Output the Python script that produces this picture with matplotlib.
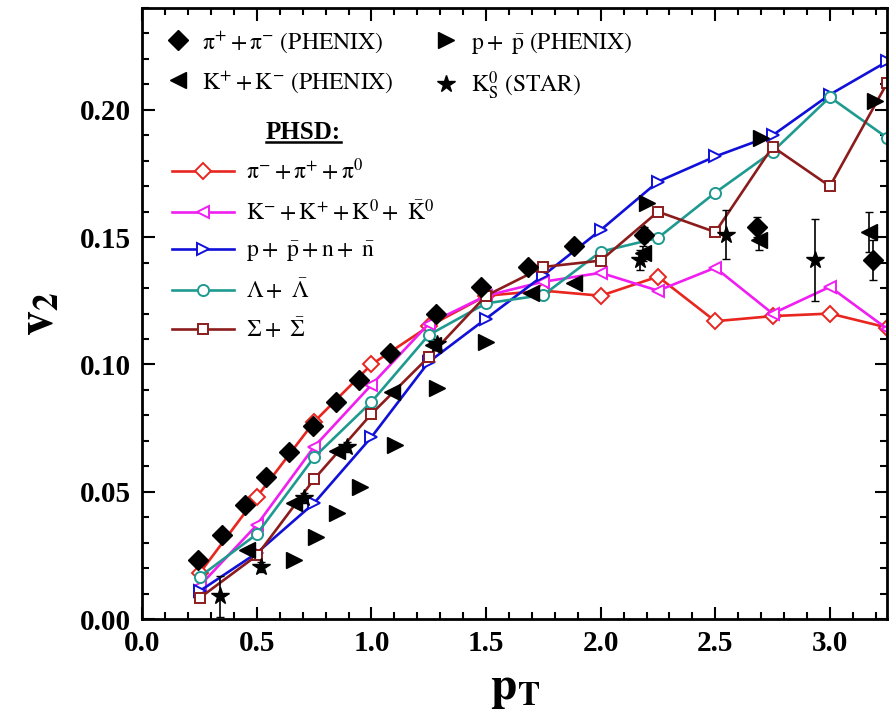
import matplotlib
matplotlib.use("Agg")
import matplotlib.pyplot as plt
from matplotlib.lines import Line2D
from matplotlib.ticker import MultipleLocator, FormatStrFormatter

plt.rcParams['font.family'] = ['Liberation Serif', 'DejaVu Serif']
plt.rcParams['mathtext.fontset'] = 'stix'

# ---------------- data ----------------
pt_model = [0.25, 0.5, 0.75, 1.0, 1.25, 1.5, 1.75, 2.0, 2.25, 2.5, 2.75, 3.0, 3.25]
v2_pi = [0.018, 0.048, 0.0775, 0.100, 0.115, 0.127, 0.129, 0.127, 0.1345, 0.117, 0.119, 0.120, 0.1145]
v2_K = [0.013, 0.037, 0.0677, 0.092, 0.116, 0.127, 0.1325, 0.136, 0.129, 0.138, 0.120, 0.1305, 0.114]
v2_p = [0.011, 0.026, 0.0456, 0.0715, 0.101, 0.118, 0.135, 0.1528, 0.1718, 0.1817, 0.190, 0.206, 0.219]
v2_L = [0.0166, 0.0334, 0.0636, 0.0853, 0.1116, 0.124, 0.1273, 0.1443, 0.1497, 0.1675, 0.1836, 0.205, 0.189]
v2_S = [0.0083, 0.025, 0.055, 0.0806, 0.103, 0.127, 0.1383, 0.1408, 0.160, 0.152, 0.1855, 0.170, 0.2106]

pt_phx_pi = [0.245, 0.35, 0.447, 0.541, 0.642, 0.743, 0.844, 0.945, 1.08, 1.28, 1.48, 1.685, 1.885, 2.19, 2.68, 3.19]
v2_phx_pi = [0.0232, 0.033, 0.0448, 0.056, 0.0657, 0.0758, 0.0854, 0.094, 0.1045, 0.120, 0.1306, 0.1382, 0.1465, 0.151, 0.154, 0.141]
err_phx_pi = [0, 0, 0, 0, 0, 0, 0, 0, 0, 0, 0, 0, 0, 0.003, 0.004, 0.008]

pt_phx_K = [0.455, 0.664, 0.851, 1.09, 1.27, 1.696, 1.885, 2.186, 2.69, 3.17]
v2_phx_K = [0.0271, 0.0455, 0.066, 0.0893, 0.1077, 0.128, 0.132, 0.1437, 0.149, 0.152]
err_phx_K = [0, 0, 0, 0, 0, 0, 0, 0.003, 0.004, 0.008]

pt_phx_p = [0.664, 0.758, 0.851, 0.952, 1.104, 1.284, 1.50, 2.20, 2.70, 3.196]
v2_phx_p = [0.0232, 0.0323, 0.0415, 0.052, 0.0684, 0.0906, 0.109, 0.1633, 0.189, 0.2033]

pt_star = [0.339, 0.52, 0.706, 0.895, 1.284, 2.17, 2.547, 2.936]
v2_star = [0.009, 0.0206, 0.0475, 0.0676, 0.108, 0.141, 0.151, 0.141]
err_star = [0.008, 0.002, 0.002, 0.002, 0.002, 0.004, 0.0095, 0.016]

# ---------------- figure ----------------
fig = plt.figure(figsize=(8.89, 7.25), dpi=100)
ax = fig.add_axes([0.160, 0.146, 0.838, 0.843])

lw = 1.9
ms = 9
ax.plot(pt_model, v2_pi, '-D', color='#e8251f', mfc='white', mec='#e8251f', lw=lw, ms=8, mew=1.4,
        label=r'$\mathrm{\pi^{-}+\pi^{+}+\pi^{0}}$')
ax.plot(pt_model, v2_K, '-<', color='#f01ef0', mfc='white', mec='#f01ef0', lw=lw, ms=ms, mew=1.4,
        label=r'$\mathrm{K^{-}+K^{+}+K^{0}+\ \bar{K}^{0}}$')
ax.plot(pt_model, v2_p, '->', color='#1010d8', mfc='white', mec='#1010d8', lw=lw, ms=ms, mew=1.4,
        label=r'$\mathrm{p+\ \bar{p}+n+\ \bar{n}}$')
ax.plot(pt_model, v2_L, '-o', color='#1f9a90', mfc='white', mec='#1f9a90', lw=lw, ms=8, mew=1.4,
        label=r'$\mathrm{\Lambda+\ \bar{\Lambda}}$')
ax.plot(pt_model, v2_S, '-s', color='#8c1c1c', mfc='white', mec='#8c1c1c', lw=lw, ms=7.5, mew=1.4,
        label=r'$\mathrm{\Sigma+\ \bar{\Sigma}}$')
model_handles, model_labels = ax.get_legend_handles_labels()

h_pi = ax.errorbar(pt_phx_pi, v2_phx_pi, yerr=err_phx_pi, fmt='D', color='black', ms=10, capsize=3,
                   elinewidth=1.2, label=r'$\mathrm{\pi^{+}+\pi^{-}\ (PHENIX)}$')
h_K = ax.errorbar(pt_phx_K, v2_phx_K, yerr=err_phx_K, fmt='<', color='black', ms=12, capsize=3,
                  elinewidth=1.2, label=r'$\mathrm{K^{+}+K^{-}\ (PHENIX)}$')
h_p = ax.errorbar(pt_phx_p, v2_phx_p, fmt='>', color='black', ms=12,
                  label=r'$\mathrm{p+\ \bar{p}\ (PHENIX)}$')
h_s = ax.errorbar(pt_star, v2_star, yerr=err_star, fmt='*', color='black', ms=13, capsize=3,
                  elinewidth=1.2, label=r'$\mathrm{K^{0}_{S}\ (STAR)}$')

ax.set_xlim(0, 3.25)
ax.set_ylim(0, 0.24)
ax.xaxis.set_major_locator(MultipleLocator(0.5))
ax.xaxis.set_minor_locator(MultipleLocator(0.1))
ax.yaxis.set_major_locator(MultipleLocator(0.05))
ax.yaxis.set_minor_locator(MultipleLocator(0.01))
ax.xaxis.set_major_formatter(FormatStrFormatter('%.1f'))
ax.yaxis.set_major_formatter(FormatStrFormatter('%.2f'))
ax.tick_params(which='both', direction='in', top=True, right=True, width=1.5)
ax.tick_params(which='major', length=9, labelsize=21, pad=8)
ax.tick_params(which='minor', length=5)
for lab in ax.get_xticklabels() + ax.get_yticklabels():
    lab.set_fontweight('bold')
for s in ax.spines.values():
    s.set_linewidth(2)

ax.set_xlabel(r'$\mathbf{p_{T}}$', fontsize=34, labelpad=8)
ax.set_ylabel(r'$\mathbf{v_{2}}$', fontsize=36, labelpad=12)

exp_handles = [h_pi[0], h_K[0], h_p[0], h_s[0]]
exp_labels = [h_pi.get_label(), h_K.get_label(), h_p.get_label(), h_s.get_label()]
leg1 = ax.legend(exp_handles, exp_labels,
                 ncol=2, loc='upper left', bbox_to_anchor=(0.0, 1.0), frameon=False,
                 fontsize=17, handlelength=1.2, handletextpad=0.45, columnspacing=1.6,
                 labelspacing=0.6, borderaxespad=0.5)
ax.add_artist(leg1)

leg2 = ax.legend(model_handles, model_labels, loc='upper left', bbox_to_anchor=(0.012, 0.85),
                 frameon=False, fontsize=17, handlelength=2.6, handletextpad=0.5,
                 labelspacing=0.6, title='PHSD:', title_fontproperties={'weight': 'bold', 'size': 18})

# underline the legend title
fig.canvas.draw()
bb = leg2.get_title().get_window_extent(fig.canvas.get_renderer())
bbf = bb.transformed(fig.transFigure.inverted())
fig.add_artist(Line2D([bbf.x0, bbf.x1], [bbf.y0 + 0.002, bbf.y0 + 0.002],
                      transform=fig.transFigure, color='black', lw=1.8))

fig.savefig('out.png', dpi=100)
